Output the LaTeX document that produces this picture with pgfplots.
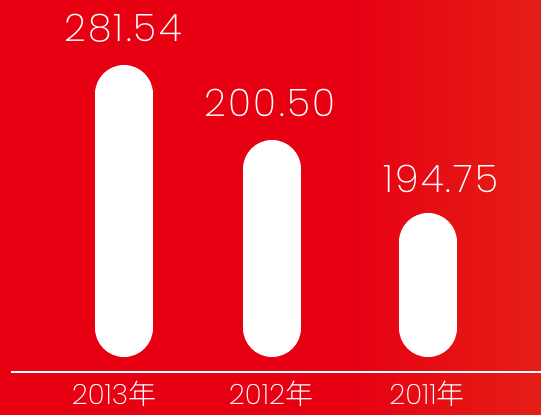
\documentclass[border=0pt]{standalone}
\usepackage{fontspec}
\usepackage{pgfplots}
\pgfplotsset{compat=1.18}
\setmainfont{Poppins ExtraLight}
\newfontfamily\valfont[LetterSpace=6]{Poppins ExtraLight}
\newfontfamily\cjk{Noto Sans CJK SC Light}
\definecolor{bgred}{RGB}{230,0,18}
\definecolor{bgorange}{RGB}{229,30,22}
\pgfdeclarehorizontalshading{bgshade}{100bp}{color(0bp)=(bgred); color(25bp)=(bgred); color(57bp)=(bgred); color(75bp)=(bgorange); color(100bp)=(bgorange)}

% bar heights in px above the lower cap centre, value labels as text
\pgfplotstableread{
x   h
124 234
272 159
428 86
}\bars

\begin{document}
\begin{tikzpicture}
\useasboundingbox (0,0) rectangle (541pt,415pt);
\shade[shading=bgshade] (0,0) rectangle (541pt,415pt);
\begin{axis}[
    width=541pt, height=415pt, scale only axis,
    xmin=0, xmax=541, ymin=-87, ymax=328,
    clip=false,
    axis line style={draw=none},
    ytick=\empty,
    xtick={114,271,427},
    xticklabels={2013{\cjk 年},2012{\cjk 年},2011{\cjk 年}},
    major tick length=0pt,
    xticklabel style={anchor=base, inner sep=0pt, yshift=10pt, text=white, font=\fontsize{28}{30}\selectfont},
]
\addplot[ycomb, draw=white, line width=58pt, line cap=round, mark=none] table[x=x, y=h] {\bars};
\draw[white, line width=1.5pt] (axis cs:11,-44) -- (axis cs:541,-44);
\begin{scope}[every node/.style={text=white, anchor=base, font=\valfont\fontsize{38}{40}\selectfont}]
\node at (axis cs:123,286) {281.54};
\node at (axis cs:270,211) {200.50};
\node at (axis cs:441,135) {194.75};
\end{scope}
\end{axis}
\end{tikzpicture}
\end{document}
